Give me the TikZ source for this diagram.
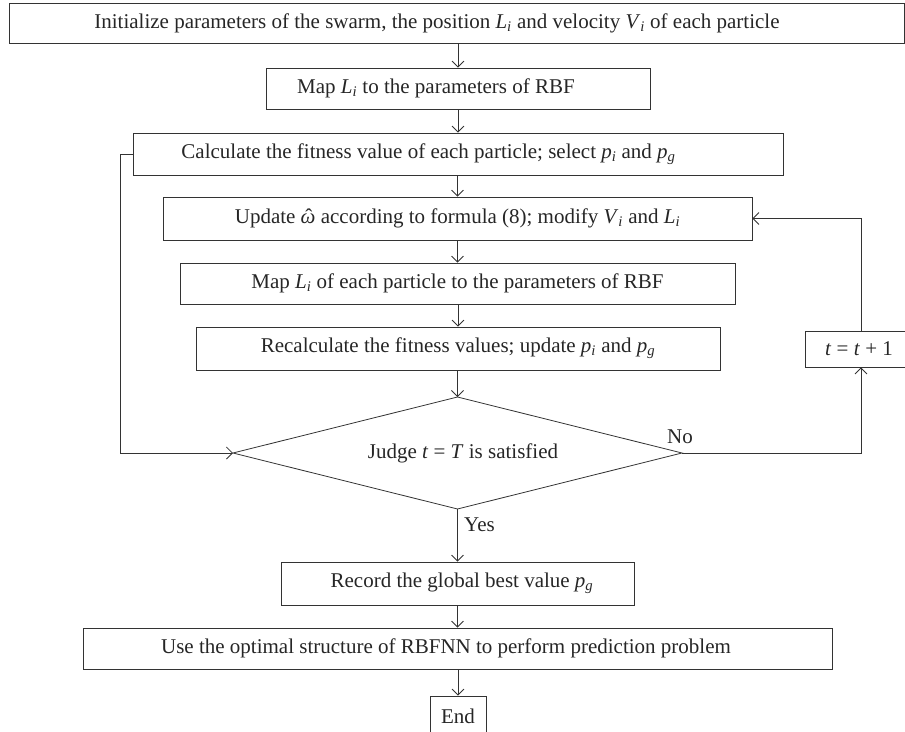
\documentclass[tikz,border=0pt]{standalone}
\usepackage{fontspec}
\setmainfont{Liberation Serif}
\usetikzlibrary{arrows.meta}
\newcommand\vv[2]{\textit{#1}\textsubscript{\textit{#2}}}
\newcommand\omhat{\begingroup\setbox0\hbox{\textit{ω}}\rlap{\hbox to \wd0{\hfil\kern1.5pt\char"02C6\hfil}}\box0\endgroup}
\begin{document}
\begin{tikzpicture}[x=1pt,y=-1pt,
  every node/.style={font=\fontsize{21}{25}\selectfont, text=black!85},
  box/.style={draw=black!80, line width=0.8pt, inner sep=0pt, minimum height=41pt},
  arr/.style={draw=black!80, line width=0.8pt, -{Straight Barb[length=6pt,width=12pt]}},
  lbl/.style={inner sep=0pt}]
\useasboundingbox (0,0) rectangle (905,731);
\clip (0,0) rectangle (905,731);
\node[box, minimum width=895pt, minimum height=40pt] (init) at (456.5,23)
  {Initialize parameters of the swarm, the position \vv{L}{i} and velocity \vv{V}{i} of each particle\hspace*{39pt}};
\node[box, minimum width=384pt] (map1) at (458,88.5)
  {Map \vv{L}{i} to the parameters of RBF\hspace*{44pt}};
\node[box, minimum width=650pt, minimum height=42pt] (calc) at (458,154)
  {Calculate the fitness value of each particle; select \vv{p}{i} and \vv{p}{g}\hspace*{59pt}};
\node[box, minimum width=589pt, minimum height=43pt] (upd) at (457.5,218.5)
  {Update \omhat{} according to formula (8); modify \vv{V}{i} and \vv{L}{i}};
\node[box, minimum width=555pt] (map2) at (457.5,283.5)
  {Map \vv{L}{i} of each particle to the parameters of RBF};
\node[box, minimum width=524pt, minimum height=43pt] (recalc) at (458,348.5)
  {Recalculate the fitness values; update \vv{p}{i} and \vv{p}{g}};
% decision diamond
\coordinate (jn) at (457.5,397);
\coordinate (je) at (682,453);
\coordinate (js) at (457.5,509);
\coordinate (jw) at (233,453);
\draw[draw=black!80, line width=0.8pt] (jn) -- (je) -- (js) -- (jw) -- cycle;
\node[lbl] (judge) at (463,453) {Judge \textit{t} = \textit{T} is satisfied};
\node[box, minimum width=112pt, minimum height=36pt] (inc) at (861,349)
  {\textit{t} = \textit{t} + 1\hspace*{4pt}};
\node[box, minimum width=353pt, minimum height=43pt] (rec) at (457.5,583.5)
  {\hspace*{9pt}Record the global best value \vv{p}{g}};
\node[box, minimum width=749pt] (use) at (457.5,648.5)
  {Use the optimal structure of RBFNN to perform prediction problem\hspace*{23pt}};
\node[box, minimum width=56pt, minimum height=40pt] (end) at (458,716) {End};
\node[lbl] (no) at (680,437) {No};
\node[lbl, anchor=west] (yes) at (464,525) {Yes};
\draw[arr] (map1.north |- init.south) -- (map1.north);
\draw[arr] (map1.south) -- (map1.south |- calc.north);
\draw[arr] (upd.north |- calc.south) -- (upd.north);
\draw[arr] (upd.south) -- (upd.south |- map2.north);
\draw[arr] (recalc.north |- map2.south) -- (recalc.north);
\draw[arr] (jn |- recalc.south) -- (jn);
\draw[arr] (js) -- (js |- rec.north);
\draw[arr] (use.north |- rec.south) -- (use.north);
\draw[arr] (end.north |- use.south) -- (end.north);
\draw[arr] (calc.west) -- ++(-12,0) |- (jw);
\draw[arr] (je) -| (inc.south);
\draw[arr] (inc.north) |- (upd.east);
\end{tikzpicture}
\end{document}
